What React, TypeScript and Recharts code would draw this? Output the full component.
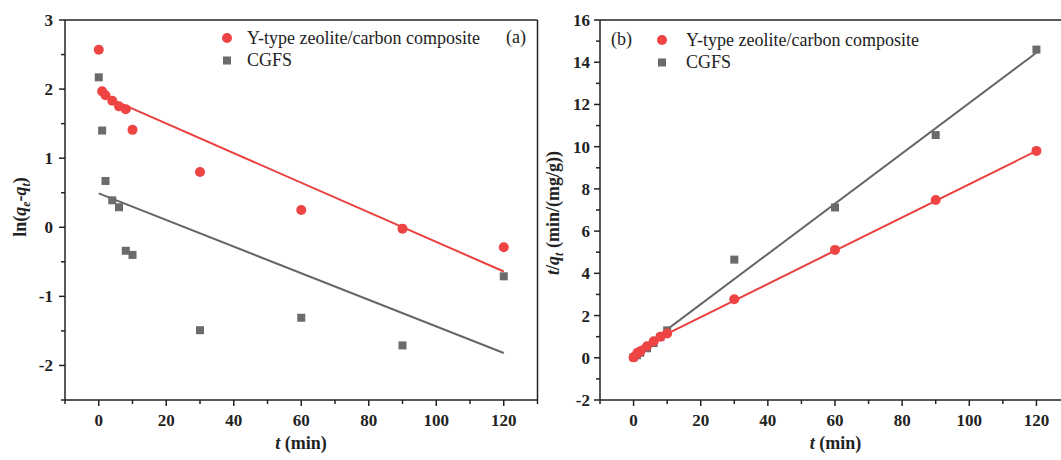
import { ScatterChart, Scatter, XAxis, YAxis, ReferenceLine } from 'recharts'

const RED = '#EF4444'
const RED_LINE = '#E8413F'
const GREY = '#6B6B6B'
const GREY_LINE = '#666666'
const AXIS = '#222222'
const SERIF = "'Liberation Serif', 'Times New Roman', serif"

// sampling times (min)
const times = [0, 1, 2, 4, 6, 8, 10, 30, 60, 90, 120]
const fitTimes = [0, 120]

// (a) pseudo-first-order: ln(qe - qt)
const lnZeolite = [2.57, 1.97, 1.91, 1.83, 1.75, 1.71, 1.41, 0.8, 0.25, -0.02, -0.29]
const lnCgfs = [2.17, 1.4, 0.67, 0.39, 0.29, -0.34, -0.4, -1.49, -1.31, -1.71, -0.71]
const lnFitZeolite = [1.93, -0.64]
const lnFitCgfs = [0.49, -1.82]

// (b) pseudo-second-order: t/qt
const tqZeolite = [0.02, 0.18, 0.3, 0.55, 0.78, 1.0, 1.15, 2.77, 5.11, 7.47, 9.8]
const tqCgfs = [0.02, 0.12, 0.24, 0.45, 0.7, 0.98, 1.3, 4.65, 7.12, 10.55, 14.6]
const tqFitZeolite = [0.35, 9.8]
const tqFitCgfs = [0.15, 14.45]

const xTicks = [-10, 0, 10, 20, 30, 40, 50, 60, 70, 80, 90, 100, 110, 120, 130]
const yTicksA = [-2.5, -2, -1.5, -1, -0.5, 0, 0.5, 1, 1.5, 2, 2.5, 3]
const yTicksB = [-2, -1, 0, 1, 2, 3, 4, 5, 6, 7, 8, 9, 10, 11, 12, 13, 14, 15, 16]

const LEGEND_NAMES = ['Y-type zeolite/carbon composite', 'CGFS']

const toPts = (xs: number[], ys: number[]) => xs.map((t, i) => ({ t, v: ys[i] }))

const tickText = { fontFamily: SERIF, fontWeight: 'bold' as const, fontSize: 17, fill: AXIS }

function XTick(props: any) {
    const { x, y, payload } = props
    const v = payload.value
    const major = v % 20 === 0
    return (
        <g>
            <line x1={x} x2={x} y1={y} y2={y + (major ? 6 : 4)} stroke={AXIS} strokeWidth={1.5} />
            {major && <text x={x} y={y + 26} textAnchor="middle" {...tickText}>{v}</text>}
        </g>
    )
}

function makeYTick(step: number, gap: number) {
    return (props: any) => {
        const { x, y, payload } = props
        const v = payload.value
        const major = Math.abs(v % step) < 1e-9
        return (
            <g>
                <line x1={x} x2={x - (major ? 6 : 4)} y1={y} y2={y} stroke={AXIS} strokeWidth={1.5} />
                {major && <text x={x - gap} y={y} dy="0.35em" textAnchor="end" {...tickText}>{v}</text>}
            </g>
        )
    }
}

const Dot = (p: any) => <circle cx={p.cx} cy={p.cy} r={5} fill={RED} />
const Sq = (p: any) => <rect x={p.cx - 4} y={p.cy - 4} width={8} height={8} fill={GREY} />
const NoShape = () => <g />

// markerX / rowY: centre of the first marker; textX: where the names start
function Legend({ markerX, rowY, textX }: { markerX: number; rowY: number; textX: number }) {
    const rowH = 22.5
    const txt = { position: 'absolute' as const, left: textX, fontFamily: SERIF, fontSize: 18, color: '#222', whiteSpace: 'nowrap' as const, lineHeight: '22px' }
    return (
        <>
            <svg style={{ position: 'absolute', left: markerX - 8, top: rowY - 8 }} width={16} height={16 + rowH}>
                <circle cx={8} cy={8} r={5} fill={RED} />
                <rect x={4} y={4 + rowH} width={8} height={8} fill={GREY} />
            </svg>
            <div style={{ ...txt, top: rowY - 11 }}>{LEGEND_NAMES[0]}</div>
            <div style={{ ...txt, top: rowY - 11 + rowH }}>{LEGEND_NAMES[1]}</div>
        </>
    )
}

const titleStyle = {
    position: 'absolute' as const,
    fontFamily: SERIF,
    fontWeight: 'bold' as const,
    fontSize: 18,
    color: '#222',
    whiteSpace: 'nowrap' as const,
    transform: 'translate(-50%, -50%)',
}

export default function App() {
    const aZeo = toPts(times, lnZeolite)
    const aCg = toPts(times, lnCgfs)
    const aFitZeo = toPts(fitTimes, lnFitZeolite)
    const aFitCg = toPts(fitTimes, lnFitCgfs)
    const bZeo = toPts(times, tqZeolite)
    const bCg = toPts(times, tqCgfs)
    const bFitZeo = toPts(fitTimes, tqFitZeolite)
    const bFitCg = toPts(fitTimes, tqFitCgfs)

    return (
        <div style={{ position: 'absolute', left: 0, top: 0, width: 1061, height: 460, overflow: 'hidden', background: '#fff' }}>
            {/* panel (a) */}
            <div style={{ position: 'absolute', left: 0, top: 0 }}>
                <ScatterChart width={545} height={460} margin={{ top: 20, right: 7.5, left: 0, bottom: 0 }}>
                    <XAxis type="number" dataKey="t" domain={[-10, 130]} ticks={xTicks} interval={0} allowDataOverflow
                        height={60} tickSize={0} tickMargin={0} tick={XTick} axisLine={{ stroke: AXIS, strokeWidth: 1.5 }} />
                    <YAxis type="number" dataKey="v" domain={[-2.5, 3]} ticks={yTicksA} interval={0} allowDataOverflow
                        width={65} tickSize={0} tickMargin={0} tick={makeYTick(1, 12)} axisLine={{ stroke: AXIS, strokeWidth: 1.5 }} />
                    <ReferenceLine y={3} stroke={AXIS} strokeWidth={1.5} />
                    <ReferenceLine x={130} stroke={AXIS} strokeWidth={1.5} />
                    <Scatter data={aFitCg} line={{ stroke: GREY_LINE, strokeWidth: 2 }} shape={NoShape} isAnimationActive={false} />
                    <Scatter data={aFitZeo} line={{ stroke: RED_LINE, strokeWidth: 2 }} shape={NoShape} isAnimationActive={false} />
                    <Scatter data={aCg} shape={Sq} isAnimationActive={false} />
                    <Scatter data={aZeo} shape={Dot} isAnimationActive={false} />
                </ScatterChart>
            </div>

            {/* panel (b) */}
            <div style={{ position: 'absolute', left: 540, top: 0 }}>
                <ScatterChart width={540} height={460} margin={{ top: 20, right: 10, left: 0, bottom: 0 }}>
                    <XAxis type="number" dataKey="t" domain={[-10, 130]} ticks={xTicks} interval={0} allowDataOverflow
                        height={60} tickSize={0} tickMargin={0} tick={XTick} axisLine={{ stroke: AXIS, strokeWidth: 1.5 }} />
                    <YAxis type="number" dataKey="v" domain={[-2, 16]} ticks={yTicksB} interval={0} allowDataOverflow
                        width={60} tickSize={0} tickMargin={0} tick={makeYTick(2, 10)} axisLine={{ stroke: AXIS, strokeWidth: 1.5 }} />
                    <ReferenceLine y={16} stroke={AXIS} strokeWidth={1.5} />
                    <Scatter data={bFitCg} line={{ stroke: GREY_LINE, strokeWidth: 2 }} shape={NoShape} isAnimationActive={false} />
                    <Scatter data={bFitZeo} line={{ stroke: RED_LINE, strokeWidth: 2 }} shape={NoShape} isAnimationActive={false} />
                    <Scatter data={bCg} shape={Sq} isAnimationActive={false} />
                    <Scatter data={bZeo} shape={Dot} isAnimationActive={false} />
                </ScatterChart>
            </div>

            {/* legends and panel tags */}
            <Legend markerX={227} rowY={37.5} textX={247} />
            <div style={{ position: 'absolute', left: 506, top: 27, fontFamily: SERIF, fontSize: 18, color: '#222' }}>(a)</div>
            <Legend markerX={662} rowY={39.5} textX={686} />
            <div style={{ position: 'absolute', left: 611, top: 29, fontFamily: SERIF, fontSize: 18, color: '#222' }}>(b)</div>

            {/* axis titles */}
            <div style={{ ...titleStyle, left: 301, top: 443 }}><i>t</i> (min)</div>
            <div style={{ ...titleStyle, left: 835.5, top: 443 }}><i>t</i> (min)</div>
            <div style={{ ...titleStyle, left: 22, top: 207, transform: 'translate(-50%, -50%) rotate(-90deg)' }}>
                ln(<i>q</i><sub style={{ fontSize: 12 }}><i>e</i></sub>-<i>q</i><sub style={{ fontSize: 12 }}><i>t</i></sub>)
            </div>
            <div style={{ ...titleStyle, left: 555, top: 213, transform: 'translate(-50%, -50%) rotate(-90deg)' }}>
                <i>t</i>/<i>q</i><sub style={{ fontSize: 12 }}><i>t</i></sub> (min/(mg/g))
            </div>
        </div>
    )
}
